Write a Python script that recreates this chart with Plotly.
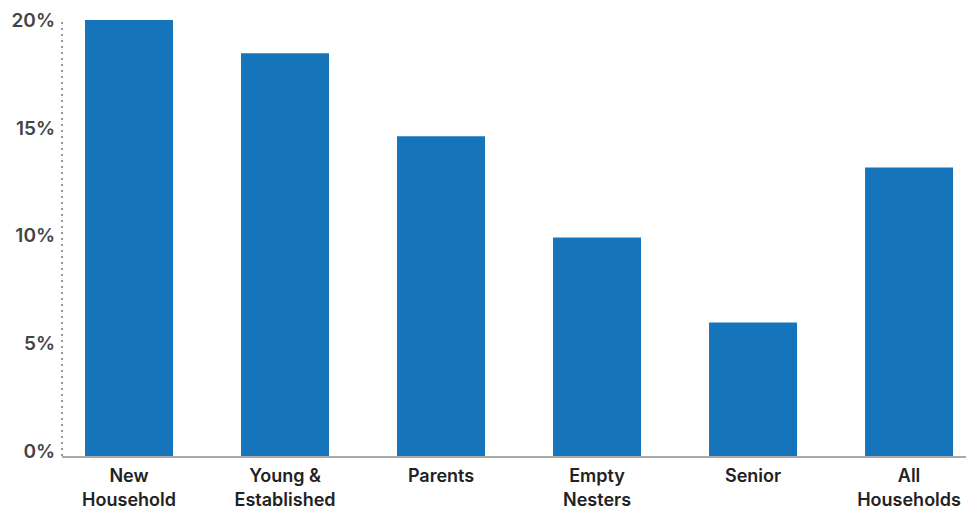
import plotly.graph_objects as go

categories = ["New<br>Household", "Young &<br>Established", "Parents", "Empty<br>Nesters", "Senior", "All<br>Households"]
values = [20.25, 18.7, 14.85, 10.15, 6.2, 13.4]
tick_vals = [0, 5, 10, 15, 20]
tick_text = ["0%", "5%", "10%", "15%", "20%"]

FONT = "Inter, sans-serif"

fig = go.Figure(go.Bar(
    x=list(range(len(categories))),
    y=values,
    marker=dict(color="#1674BA", line=dict(width=0)),
    width=0.564,
    hoverinfo="skip",
))

fig.update_layout(
    width=966, height=508,
    margin=dict(l=62, r=0, t=20, b=52),
    paper_bgcolor="white", plot_bgcolor="white",
    showlegend=False,
    font=dict(family=FONT, size=18),
    xaxis=dict(
        range=[-0.4295, 5.365],
        tickmode="array", tickvals=list(range(len(categories))), ticktext=categories,
        tickfont=dict(family=FONT, size=18, color="#222222", weight=600),
        showgrid=False, zeroline=False, ticks="",
        showline=True, linecolor="#aaaaaa", linewidth=1.5,
        ticklabelstandoff=3, automargin=False,
    ),
    yaxis=dict(
        range=[0, 20.25],
        tickmode="array", tickvals=tick_vals, ticktext=tick_text,
        tickfont=dict(family=FONT, size=19, color="#444444", weight=600),
        showgrid=False, zeroline=False, ticks="", showline=False,
        ticklabelstandoff=6, ticklabelshift=-5, automargin=False,
    ),
    shapes=[dict(type="line", xref="paper", yref="paper", x0=0, x1=0, y0=0, y1=1,
                 line=dict(color="#999999", width=2, dash="2px,4px"))],
)

fig.write_html("out.html")
